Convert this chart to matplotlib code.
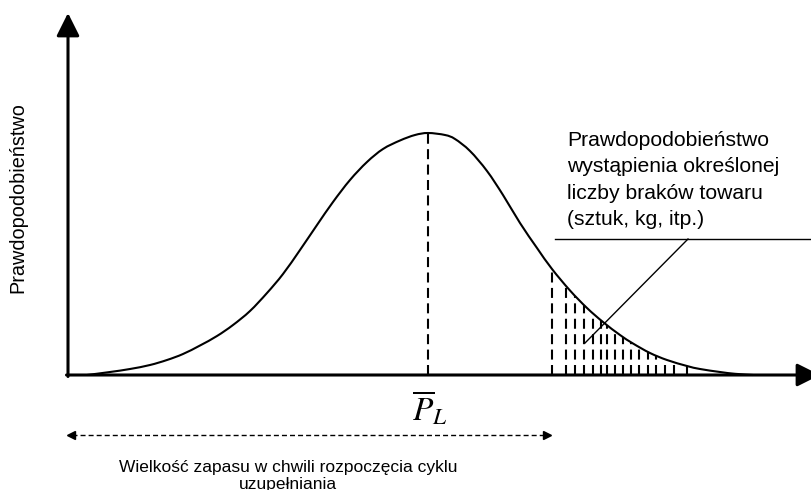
import numpy as np
import matplotlib.pyplot as plt
from matplotlib.path import Path
from matplotlib.patches import PathPatch

plt.rcParams['font.family'] = ['Liberation Sans', 'DejaVu Sans']
plt.rcParams['mathtext.fontset'] = 'stix'

# stock level along the axis and the probability height of the curve
stock = [19, 42, 62, 82, 99, 115, 132, 149, 165, 182, 199, 215, 232, 249,
         265, 282, 299, 315, 332, 347, 360, 377, 387, 402, 419, 435, 452,
         469, 484, 502, 519, 535, 552, 565, 582, 599, 619, 632, 652, 667,
         685]
prob = [0, 3, 6, 10, 15, 21, 29.5, 39, 50, 64, 82, 101, 125, 150,
        173, 195, 213, 226, 234.5, 240, 242, 240, 236, 224, 204, 180, 152,
        127, 106, 84.5, 67, 53, 40, 31.5, 22, 15, 9, 6, 3, 1.2,
        0]

# mean stock (peak of the curve)
mean_stock = 360
# stock levels of the shortage hatching
shortage = [484, 498, 507, 516, 525, 533, 539, 547, 555, 563, 571, 580,
            588, 597, 606, 619]
# start of the replenishment cycle
reorder_level = 482

note_lines = ["Prawdopodobieństwo", "wystąpienia określonej",
              "liczby braków towaru", "(sztuk, kg, itp.)"]


def smooth_path(x, y):
    # Catmull-Rom through the points, written as cubic Bezier segments
    pts = np.column_stack([x, y]).astype(float)
    n = len(pts)
    verts = [pts[0]]
    codes = [Path.MOVETO]
    for i in range(n - 1):
        p0 = pts[max(i - 1, 0)]
        p1 = pts[i]
        p2 = pts[i + 1]
        p3 = pts[min(i + 2, n - 1)]
        verts += [p1 + (p2 - p0) / 6, p2 - (p3 - p1) / 6, p2]
        codes += [Path.CURVE4] * 3
    return Path(verts, codes)


fig = plt.figure(figsize=(8.12, 4.90), dpi=100)
ax = fig.add_axes([0, 0, 1, 1])
ax.set_xlim(-68, 744)
ax.set_ylim(-115, 375)
ax.axis('off')

# axes with arrow heads
head = '-|>,head_length=0.7,head_width=0.35'
ax.annotate('', xy=(0, 362), xytext=(0, -1.5), annotation_clip=False,
            arrowprops=dict(arrowstyle=head, lw=2.2, color='black',
                            shrinkA=0, shrinkB=0, mutation_scale=20))
ax.annotate('', xy=(752, 0), xytext=(-1.5, 0), annotation_clip=False,
            arrowprops=dict(arrowstyle=head, lw=2.2, color='black',
                            shrinkA=0, shrinkB=0, mutation_scale=20))

# distribution curve
ax.add_patch(PathPatch(smooth_path(stock, prob), fill=False,
                       edgecolor='black', lw=1.5))

dash = (0, (4.8, 2.6))
peak = np.interp(mean_stock, stock, prob)
ax.vlines(mean_stock, 0, peak, colors='black', lw=1.5, linestyles=[dash])
ax.vlines(shortage, 0, np.interp(shortage, stock, prob), colors='black',
          lw=1.5, linestyles=[dash])

ax.text(mean_stock + 2, -33, r'$\overline{P}_{L}$', fontsize=24,
        ha='center', va='center')

# leader to the shortage area
ax.plot([487, 744], [136, 136], color='black', lw=1)
ax.plot([620, 517], [136, 32], color='black', lw=1)
for i, line in enumerate(note_lines):
    ax.text(499, 229 - i * 26.3, line, fontsize=15.2, ha='left',
            va='baseline')

ax.text(-50, 177, 'Prawdopodobieństwo', rotation=90, fontsize=14.3,
        ha='center', va='center')

# reorder stock range
ax.plot([4, reorder_level - 4], [-60, -60], color='black', lw=1,
        ls=(0, (3.6, 2.2)))
ax.plot([3], [-60], marker='<', ms=6, color='black')
ax.plot([reorder_level - 3], [-60], marker='>', ms=6, color='black')
ax.text(220, -97, 'Wielkość zapasu w chwili rozpoczęcia cyklu',
        fontsize=12.5, ha='center', va='baseline')
ax.text(220, -114, 'uzupełniania', fontsize=12.5, ha='center',
        va='baseline')

fig.savefig('out.png', dpi=100)
